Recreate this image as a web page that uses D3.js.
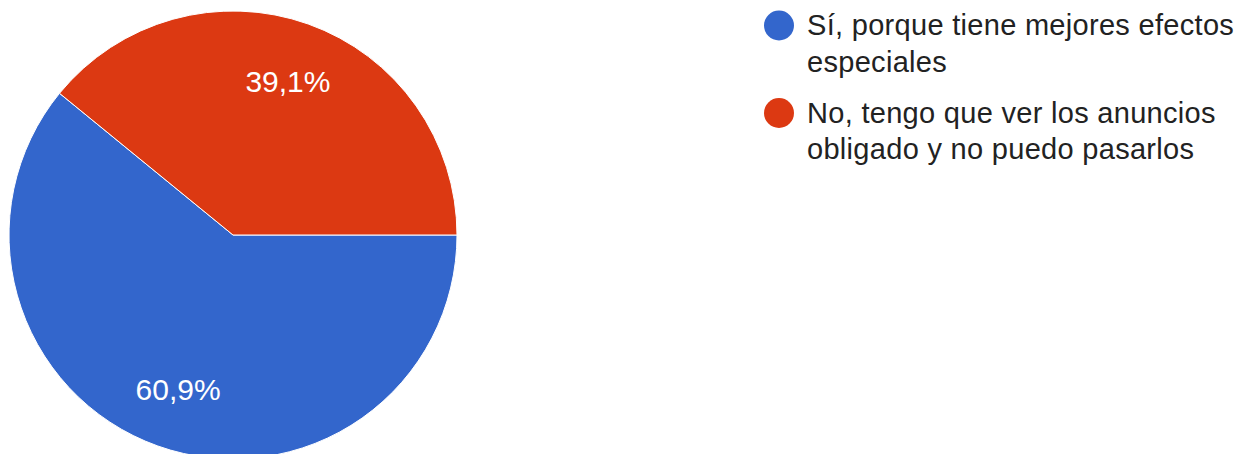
<!DOCTYPE html>
<html>
<head>
<meta charset="utf-8">
<script src="https://cdn.jsdelivr.net/npm/d3@7"></script>
<style>
  html, body { margin: 0; padding: 0; background: #fff; }
  svg { display: block; }
</style>
</head>
<body>
<svg id="chart" width="1253" height="454"></svg>
<script>
// Survey answers and their shares (percent)
const categories = [
  ["Sí, porque tiene mejores efectos", "especiales"],
  ["No, tengo que ver los anuncios", "obligado y no puedo pasarlos"]
];
const values = [60.9, 39.1];
const valueLabels = ["60,9%", "39,1%"];
const colors = ["#3366cc", "#dc3912"];

const svg = d3.select("#chart");
const font = "'Liberation Sans', Arial, Helvetica, sans-serif";

const cx = 233, cy = 235, radius = 224;

// Slices start at 3 o'clock and run clockwise
const pie = d3.pie()
  .sort(null)
  .value(d => d)
  .startAngle(Math.PI / 2)
  .endAngle(Math.PI / 2 + 2 * Math.PI);

const arcs = pie(values);
const arc = d3.arc().innerRadius(0).outerRadius(radius);
const labelArc = d3.arc().innerRadius(radius * 0.73).outerRadius(radius * 0.73);

const g = svg.append("g").attr("transform", `translate(${cx},${cy})`);

g.selectAll("path.slice")
  .data(arcs)
  .join("path")
  .attr("class", "slice")
  .attr("d", arc)
  .attr("fill", (d, i) => colors[i])
  .attr("stroke", "#ffffff")
  .attr("stroke-width", 1);

g.selectAll("text.pct")
  .data(arcs)
  .join("text")
  .attr("class", "pct")
  .attr("transform", d => `translate(${labelArc.centroid(d)})`)
  .attr("text-anchor", "middle")
  .attr("dy", "0.36em")
  .attr("fill", "#ffffff")
  .style("font-family", font)
  .style("font-size", "30px")
  .text((d, i) => valueLabels[i]);

// Legend
const legendX = 779, textX = 807;
const itemBaselines = [35, 122.5];
const lineHeight = 36.7;

const items = svg.selectAll("g.legend")
  .data(categories)
  .join("g")
  .attr("class", "legend");

items.append("circle")
  .attr("cx", legendX)
  .attr("cy", (d, i) => itemBaselines[i] - 9.5)
  .attr("r", 15)
  .attr("fill", (d, i) => colors[i]);

items.append("text")
  .attr("x", textX)
  .attr("y", (d, i) => itemBaselines[i])
  .attr("fill", "#222222")
  .style("font-family", font)
  .style("font-size", "29px")
  .style("letter-spacing", "0.3px")
  .selectAll("tspan")
  .data(d => d)
  .join("tspan")
  .attr("x", textX)
  .attr("dy", (d, j) => j === 0 ? 0 : lineHeight)
  .text(d => d);
</script>
</body>
</html>
